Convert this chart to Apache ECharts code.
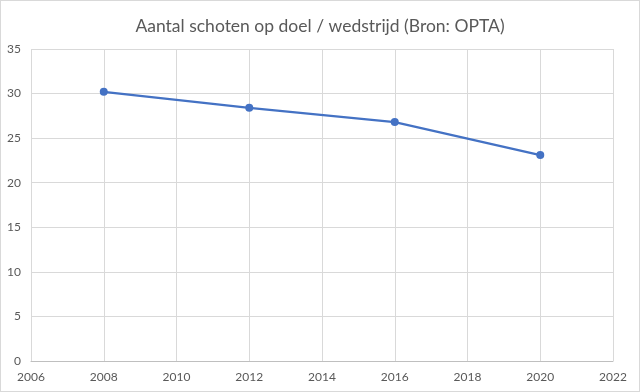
<!DOCTYPE html>
<html><head><meta charset="utf-8">
<script src="https://cdn.jsdelivr.net/npm/echarts@6/dist/echarts.min.js"></script>
<style>html,body{margin:0;padding:0;background:#fff}#c{width:640px;height:392px;box-sizing:border-box;border:1px solid #d9d9d9}</style>
</head><body><div id="c"></div>
<script>
const years = [2008, 2012, 2016, 2020];
const shots = [30.2, 28.4, 26.8, 23.1];
const title = 'Aantal schoten op doel / wedstrijd (Bron: OPTA)';
const chart = echarts.init(document.getElementById('c'));
const font = 'Lato, "Open Sans", sans-serif';
chart.setOption({
  animation: false,
  title: { text: title, left: 'center', top: 11, textStyle: { fontFamily: font, fontSize: 17.5, fontWeight: 'normal', color: '#595959' } },
  grid: { left: 30, right: 26, top: 48, bottom: 30 },
  xAxis: { type: 'value', min: 2006, max: 2022, interval: 2,
    axisLine: { show: true, lineStyle: { color: '#bfbfbf' } }, axisTick: { show: false },
    splitLine: { show: true, lineStyle: { color: '#d9d9d9' } },
    axisLabel: { color: '#595959', fontFamily: font, fontSize: 12, margin: 10, formatter: v => String(v) } },
  yAxis: { type: 'value', min: 0, max: 35, interval: 5,
    axisLine: { show: false }, axisTick: { show: false },
    splitLine: { lineStyle: { color: '#d9d9d9' } },
    axisLabel: { color: '#595959', fontFamily: font, fontSize: 12, margin: 10 } },
  series: [{ type: 'line', data: years.map((y, i) => [y, shots[i]]),
    symbol: 'circle', symbolSize: 8,
    lineStyle: { color: '#4472C4', width: 2.25 }, itemStyle: { color: '#4472C4' } }]
});
</script></body></html>
